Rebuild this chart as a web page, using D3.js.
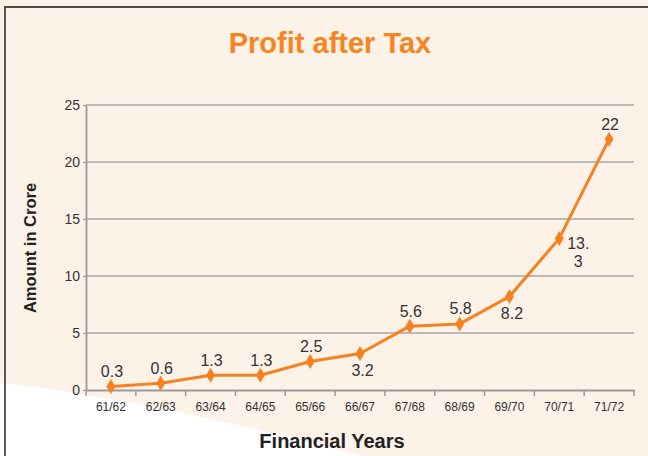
<!DOCTYPE html>
<html>
<head>
<meta charset="utf-8">
<script src="https://cdn.jsdelivr.net/npm/d3@7"></script>
<style>
  html, body { margin: 0; padding: 0; background: #fdf1e6; }
  svg { display: block; }
</style>
</head>
<body>
<svg id="chart" width="648" height="456"></svg>
<script>
// ---- data ----
const categories = ["61/62","62/63","63/64","64/65","65/66","66/67","67/68","68/69","69/70","70/71","71/72"];
const profit = [0.3, 0.6, 1.3, 1.3, 2.5, 3.2, 5.6, 5.8, 8.2, 13.3, 22];
const valueLabels = ["0.3","0.6","1.3","1.3","2.5","3.2","5.6","5.8","8.2","13.3","22"];
const labelSide = ["above","above","above","above","above","below","above","above","below","right","above"];
const yTicks = [0, 5, 10, 15, 20, 25];

const orange = "#f5821f";
const font = "'Liberation Sans', Arial, sans-serif";
const svg = d3.select("#chart");
const W = 648, H = 456;

// background
svg.append("rect").attr("width", W).attr("height", H).attr("fill", "#fdf1e6");
svg.append("rect").attr("x", 5).attr("y", 7).attr("width", W).attr("height", H)
  .attr("fill", "#fdf2e8");
// white swoosh at bottom-left
svg.append("path")
  .attr("d", "M0,383 C70,390 190,412 300,440 L380,460 L0,460 Z")
  .attr("fill", "#ffffff");
// frame
svg.append("path")
  .attr("d", `M5,${H + 5} L5,7 L${W + 5},7`)
  .attr("fill", "none").attr("stroke", "#4a4a4a").attr("stroke-width", 1.8);

// scales
const x = d3.scaleBand().domain(categories).range([86, 634]).padding(0);
const y = d3.scaleLinear().domain([0, 25]).range([390, 105]);
const cx = d => x(d) + x.bandwidth() / 2;

// gridlines
svg.append("g").selectAll("line").data(yTicks.filter(t => t > 0)).join("line")
  .attr("x1", x.range()[0]).attr("x2", x.range()[1])
  .attr("y1", d => y(d)).attr("y2", d => y(d))
  .attr("stroke", "#a6a6a6").attr("stroke-width", 1.5);

// y axis
const yAxis = svg.append("g").attr("transform", "translate(86,0)")
  .call(d3.axisLeft(y).tickValues(yTicks).tickSize(3).tickPadding(3).tickSizeOuter(0));
yAxis.attr("font-size", null).attr("font-family", null);
yAxis.select(".domain").attr("stroke", "#9a9a9a").attr("stroke-width", 1.8);
yAxis.selectAll(".tick line").attr("stroke", "#9a9a9a").attr("stroke-width", 1.2);
yAxis.selectAll(".tick text").attr("fill", "#333")
  .style("font-size", "14px").style("font-family", font);

// x axis (labels at band centres, ticks at band edges)
const xAxis = svg.append("g").attr("transform", "translate(0,390)")
  .call(d3.axisBottom(x).tickSize(0).tickPadding(12).tickSizeOuter(0));
xAxis.attr("font-size", null).attr("font-family", null);
xAxis.select(".domain").attr("stroke", "#9a9a9a").attr("stroke-width", 1.8);
xAxis.selectAll(".tick text").attr("fill", "#333")
  .style("font-size", "12px").style("font-family", font);
const edges = categories.map(c => x(c)).concat([x.range()[1]]);
svg.append("g").selectAll("line").data(edges).join("line")
  .attr("x1", d => d).attr("x2", d => d).attr("y1", 390).attr("y2", 396)
  .attr("stroke", "#9a9a9a").attr("stroke-width", 1.5);

// line
const pts = categories.map((c, i) => ({c, v: profit[i], lab: valueLabels[i], side: labelSide[i]}));
svg.append("path").datum(pts)
  .attr("d", d3.line().x(d => cx(d.c)).y(d => y(d.v)))
  .attr("fill", "none").attr("stroke", orange).attr("stroke-width", 3)
  .attr("stroke-linejoin", "round");

// diamond markers
svg.append("g").selectAll("path").data(pts).join("path")
  .attr("transform", d => `translate(${cx(d.c)},${y(d.v)})`)
  .attr("d", "M0,-7.5 L4.5,0 L0,7.5 L-4.5,0 Z")
  .attr("fill", orange);

// value labels
const labG = svg.append("g").style("font-family", font)
  .style("font-size", "16px").attr("fill", "#333").attr("text-anchor", "middle");
pts.forEach(d => {
  const px = cx(d.c), py = y(d.v);
  if (d.side === "above") {
    labG.append("text").attr("x", px + 1).attr("y", py - 9.5).text(d.lab);
  } else if (d.side === "below") {
    labG.append("text").attr("x", px + 2.5).attr("y", py + 22).text(d.lab);
  } else {
    const parts = [d.lab.slice(0, 3), d.lab.slice(3)];
    const t = labG.append("text").attr("x", px + 19).attr("y", py + 11);
    t.append("tspan").attr("x", px + 19).text(parts[0]);
    t.append("tspan").attr("x", px + 19).attr("dy", 17.5).text(parts[1]);
  }
});

// titles
svg.append("text").attr("x", 330).attr("y", 53).attr("text-anchor", "middle")
  .style("font-family", font).attr("font-weight", "bold")
  .style("font-size", "29px").attr("fill", "#f7841f").text("Profit after Tax");

svg.append("text").attr("transform", "translate(36,248) rotate(-90)")
  .attr("text-anchor", "middle")
  .style("font-family", font).attr("font-weight", "bold")
  .style("font-size", "16.5px").attr("fill", "#222").text("Amount in Crore");

svg.append("text").attr("x", 332).attr("y", 448).attr("text-anchor", "middle")
  .style("font-family", font).attr("font-weight", "bold")
  .style("font-size", "20px").attr("fill", "#222").text("Financial Years");
</script>
</body>
</html>
